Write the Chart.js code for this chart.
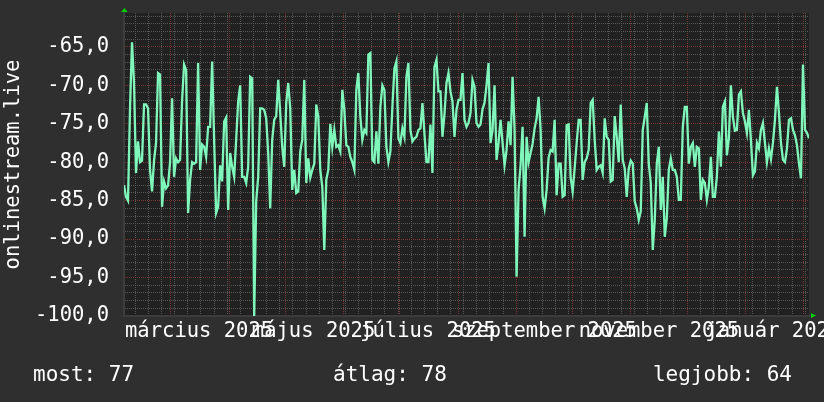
<!DOCTYPE html>
<html>
<head>
<meta charset="utf-8">
<script src="https://cdn.jsdelivr.net/npm/chart.js@4.4.1/dist/chart.umd.min.js"></script>
<style>
  html, body { margin: 0; padding: 0; background: #2f2f2f; overflow: hidden; }
  canvas { display: block; }
</style>
</head>
<body>
<canvas id="chart" width="824" height="402"></canvas>
<script>
// time range of the graph (one year)
const startDate = '2025-02-04';
const endDate = '2026-02-04';

// values, evenly spaced over the range
const values = [
  -83, -84.5, -85, -73, -64.4, -69.7, -81.4, -77.3, -80, -79.8,
  -72.5, -72.5, -73, -81, -83.8, -79.8, -77.5, -68.4, -68.6, -85.8,
  -82.5, -83.4, -83, -80, -71.7, -81.9, -79.5, -80, -79.7, -72,
  -67.3, -68, -86.6, -82.3, -80, -80.2, -80, -67.1, -81, -77.7,
  -78, -79.3, -75.4, -75.4, -66.9, -77.1, -86.6, -85.8, -80.4, -82.5,
  -74.7, -74.2, -86.2, -78.8, -80.6, -81.9, -77.1, -72.1, -70, -81.9,
  -81.9, -82.7, -80.6, -68.9, -69.1, -100,
  -85.1, -81.9, -73, -73, -73.2, -74.3, -78.8, -86, -77.1, -74.5,
  -74, -69.3, -73.6, -78, -80.6, -72.3, -69.7, -73, -83.6, -81,
  -84, -83.8, -78.6, -77.1, -69.3, -82.7, -79.5, -82, -81, -80.2,
  -72.5, -74.1, -81, -83.2, -91.4, -82.3, -81, -75, -78, -75.8,
  -78, -77.8, -78.6, -70.6, -73.2, -77.8, -78, -79.3, -80, -81,
  -70.6, -68.4, -74.1, -77.1, -75.8, -76.2, -66, -65.8, -79.7, -80,
  -76, -80.2, -72.8, -70, -70.6, -78, -80,
  -78.6, -72.8, -67.8, -66.9, -76.9, -77.5, -75.6, -76.7, -68.9, -67.1,
  -75.8, -77.3, -76.9, -76.7, -75.8, -75.6, -72.3, -76.3, -80, -80,
  -75.1, -81.4, -67.6, -66.7, -70.8, -70.8, -76.7, -73.8, -69.7, -68.4,
  -70.8, -72.1, -76.7, -73.2, -71.9, -71.9, -68.4, -74.5, -75.4, -74.9,
  -73.6, -69.3, -70.2, -74.9, -75.4, -75.1, -73.1, -72.3, -70, -67.1,
  -77.5, -75.8, -70, -79.7, -77.5, -74.5, -77.5, -80.4, -78.4, -74.7,
  -77.8, -68.9, -75.8, -94.9, -83.6, -80.4, -75.4, -89.7,
  -76.7, -80, -78.8, -77.6, -75.6, -74.3, -71.5, -75.8, -84.5, -86,
  -83.6, -79.4, -78.4, -78.6, -74.5, -84.3, -80.2, -80.2, -84.5, -84.3,
  -75.2, -75.1, -82, -83.8, -80.8, -77.5, -74.5, -74.5, -82.3, -80,
  -79.5, -78.4, -72.3, -71.9, -77.1, -81, -80.6, -80.4, -81.4, -74.3,
  -76.7, -77.1, -82.5, -82.3, -74, -76.7, -80, -72.5, -79.7, -80.8,
  -84.5, -80.8, -79.8, -80.2, -85.1, -86, -87.5, -86.4, -75.8, -74.1,
  -72.3, -80.2, -82.7, -91.4, -87.5, -80.2, -78,
  -86.2, -81.9, -89.7, -87.3, -81, -79.5, -81, -81, -81.9, -84.9,
  -84.9, -75.4, -72.8, -72.8, -80.2, -78, -77.5, -80.6, -78, -78.2,
  -84.9, -82.3, -82.7, -84.9, -83.2, -79.3, -84.5, -84.5, -81.9, -76,
  -80.6, -72.8, -72.1, -79.1, -76.9, -70, -74.1, -75.9, -75.8, -71.2,
  -70.8, -73.6, -74.7, -76.2, -73.2, -77.1, -81.7, -81.2, -77.5, -78.2,
  -75.8, -74.9, -77.5, -80, -78.2, -79.6, -77.5, -74.5, -70.2, -73.6,
  -77.5, -79.7, -80, -78.2, -74.5, -74.3, -75.8, -76.5, -77.8, -80.2,
  -82.1, -67.3, -75.8, -76.2, -76.9
];

const yMin = -100;
const yMax = -60.6;

// month starts (red grid) and month labels (every 2 months)
const monthStarts = ['2025-03-01', '2025-04-01', '2025-05-01', '2025-06-01', '2025-07-01', '2025-08-01',
  '2025-09-01', '2025-10-01', '2025-11-01', '2025-12-01', '2026-01-01', '2026-02-01'];
const labelDates = ['2025-03-16', '2025-05-16', '2025-07-16', '2025-09-16', '2025-11-16', '2026-01-16'];
const xLabels = ['március 2025', 'május 2025', 'július 2025', 'szeptember 2025', 'november 2025', 'január 2026'];
const firstMonday = '2025-02-10';

const legendItems = ['most: 77', 'átlag: 78', 'legjobb: 64'];
const seriesName = 'onlinestream.live';

const FONT = 'DejaVu Sans Mono';
const GRID_MINOR = '#575757';
const GRID_MAJOR = '#7a3434';

const DAY = 86400000;
const t0 = Date.parse(startDate);
const toDay = s => (Date.parse(s) - t0) / DAY;
const span = toDay(endDate);
const step = span / (values.length - 1);
const points = values.map((v, i) => ({ x: i * step, y: v }));

// x ticks: weekly (minor), monthly (major), label positions
const monthDays = monthStarts.map(toDay);
const xTicks = [];
for (let d = toDay(firstMonday); d < span; d += 7) {
  if (!monthDays.includes(d)) xTicks.push({ value: d, kind: 'minor' });
}
monthDays.forEach(d => xTicks.push({ value: d, kind: 'major' }));
labelDates.forEach((d, i) => xTicks.push({ value: toDay(d), kind: 'label', text: xLabels[i] }));

const yTicks = [];
for (let v = yMin; v < yMax; v += 1) {
  yTicks.push({ value: v, kind: v % 5 === 0 ? 'major' : 'minor' });
}

function gridColor(ctx) {
  const k = ctx.tick && ctx.tick.kind;
  if (k === 'major') return GRID_MAJOR;
  if (k === 'minor') return GRID_MINOR;
  return 'rgba(0,0,0,0)';
}

const decor = {
  id: 'decor',
  beforeDraw(chart) {
    const { ctx, chartArea: a } = chart;
    ctx.save();
    ctx.fillStyle = '#2f2f2f';
    ctx.fillRect(0, 0, chart.width, chart.height);
    ctx.fillStyle = '#212121';
    ctx.fillRect(a.left, a.top, a.right - a.left, a.bottom - a.top);
    ctx.restore();
  },
  afterDraw(chart) {
    const { ctx, chartArea: a } = chart;
    ctx.save();
    // axis arrows
    ctx.fillStyle = '#00d000';
    ctx.beginPath();
    ctx.moveTo(a.left - 3, a.top - 1);
    ctx.lineTo(a.left + 3.5, a.top - 1);
    ctx.lineTo(a.left + 0.5, a.top - 5);
    ctx.closePath();
    ctx.fill();
    ctx.beginPath();
    ctx.moveTo(a.right + 2, a.bottom - 3);
    ctx.lineTo(a.right + 2, a.bottom + 2);
    ctx.lineTo(a.right + 7, a.bottom - 0.5);
    ctx.closePath();
    ctx.fill();
    // legend line
    ctx.fillStyle = '#ffffff';
    ctx.font = '21px "' + FONT + '"';
    ctx.textBaseline = 'alphabetic';
    ctx.textAlign = 'left';
    ctx.fillText(legendItems[0], 33, 381);
    ctx.fillText(legendItems[1], 333, 381);
    ctx.textAlign = 'right';
    ctx.fillText(legendItems[2], 792, 381);
    ctx.restore();
  }
};

new Chart(document.getElementById('chart').getContext('2d'), {
  type: 'line',
  data: {
    datasets: [{
      label: seriesName,
      data: points,
      borderColor: '#7ff7bb',
      borderWidth: 2.3,
      pointRadius: 0,
      tension: 0,
      fill: false
    }]
  },
  options: {
    responsive: false,
    animation: false,
    devicePixelRatio: 1,
    layout: { padding: { top: 13, right: 15, bottom: 0, left: 0 } },
    plugins: { legend: { display: false }, tooltip: { enabled: false } },
    scales: {
      x: {
        type: 'linear',
        min: 0,
        max: span,
        afterBuildTicks: s => { s.ticks = xTicks.map(t => Object.assign({}, t)); },
        afterFit: s => { s.height = 86; s.paddingLeft = 0; s.paddingRight = 0; },
        grid: { color: gridColor, lineWidth: 1, drawTicks: false },
        border: { display: true, color: '#3c3c3c', width: 2, dash: [1, 1] },
        ticks: {
          autoSkip: false,
          maxRotation: 0,
          minRotation: 0,
          padding: 3,
          color: '#ffffff',
          font: { family: FONT, size: 20.5 },
          callback: (v, i, ticks) => ticks[i].text || ''
        }
      },
      y: {
        type: 'linear',
        min: yMin,
        max: yMax,
        afterBuildTicks: s => { s.ticks = yTicks.map(t => Object.assign({}, t)); },
        afterFit: s => { s.width = 124; s.paddingTop = 0; s.paddingBottom = 0; },
        grid: { color: gridColor, lineWidth: 1, drawTicks: false },
        border: { display: true, color: '#3c3c3c', width: 2, dash: [1, 1] },
        title: {
          display: true,
          text: seriesName,
          color: '#ffffff',
          font: { family: FONT, size: 20.5 },
          padding: { top: 1, bottom: 0 }
        },
        ticks: {
          autoSkip: false,
          padding: 15,
          color: '#ffffff',
          font: { family: FONT, size: 20.5 },
          callback: v => (v % 5 === 0 ? v.toFixed(1).replace('.', ',') : '')
        }
      }
    }
  },
  plugins: [decor]
});
</script>
</body>
</html>
